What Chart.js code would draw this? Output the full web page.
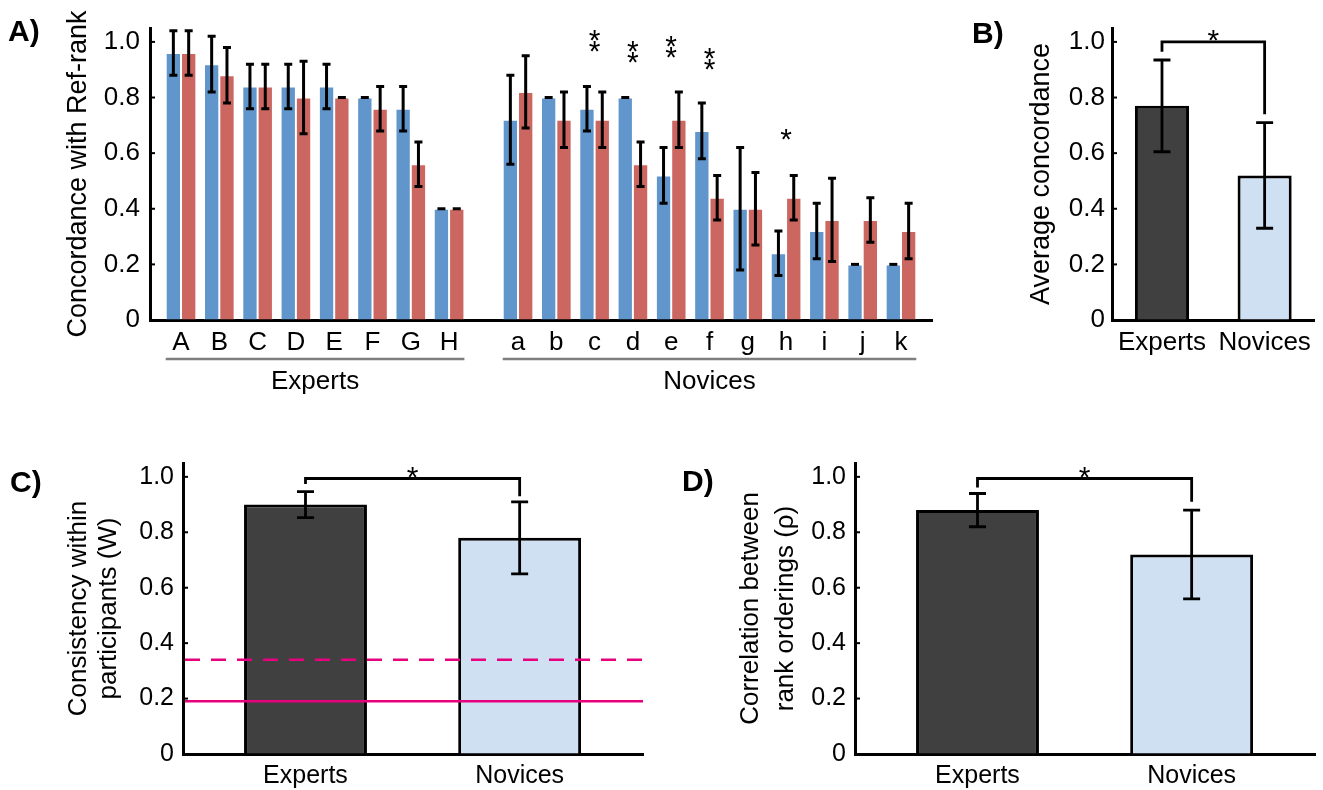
<!DOCTYPE html>
<html><head><meta charset="utf-8">
<script src="https://cdn.jsdelivr.net/npm/chart.js@4.4.0/dist/chart.umd.min.js"></script>
<style>
html,body{margin:0;padding:0;background:#fff;}
body{width:1323px;height:790px;overflow:hidden;position:relative;font-family:"Liberation Sans",Arial,Helvetica,sans-serif;}
.box{position:absolute;}
.lbl{position:absolute;font-weight:bold;font-size:30px;line-height:30px;color:#000;}
</style></head><body>
<div class="box" style="left:0;top:0;width:940px;height:400px"><canvas id="cA"></canvas></div>
<div class="box" style="left:960px;top:0;width:363px;height:400px"><canvas id="cB"></canvas></div>
<div class="box" style="left:0;top:400px;width:660px;height:390px"><canvas id="cC"></canvas></div>
<div class="box" style="left:660px;top:400px;width:663px;height:390px"><canvas id="cD"></canvas></div>
<div class="lbl" style="left:8px;top:16px">A)</div>
<div class="lbl" style="left:972px;top:18px">B)</div>
<div class="lbl" style="left:10px;top:467px">C)</div>
<div class="lbl" style="left:682px;top:466px">D)</div>
<script>
// ---------- DATA ----------
const expertLabels = ['A','B','C','D','E','F','G','H'];
const noviceLabels = ['a','b','c','d','e','f','g','h','i','j','k'];
const blueExperts    = [0.96,0.92,0.84,0.84,0.84,0.80,0.76,0.40];
const blueExpertsErr = [0.08,0.10,0.08,0.08,0.08,0.00,0.08,0.00];
const redExperts     = [0.96,0.88,0.84,0.80,0.80,0.76,0.56,0.40];
const redExpertsErr  = [0.08,0.10,0.08,0.13,0.00,0.08,0.08,0.00];
const blueNovices    = [0.72,0.80,0.76,0.80,0.52,0.68,0.40,0.24,0.32,0.20,0.20];
const blueNovicesErr = [0.16,0.00,0.08,0.00,0.10,0.10,0.22,0.08,0.10,0.00,0.00];
const redNovices     = [0.82,0.72,0.72,0.56,0.72,0.44,0.40,0.44,0.36,0.36,0.32];
const redNovicesErr  = [0.13,0.10,0.10,0.08,0.10,0.08,0.13,0.08,0.15,0.08,0.10];
const sigStarsA = [{cat:'c',count:2,at:1.024},{cat:'d',count:2,at:0.982},{cat:'e',count:2,at:1.002},{cat:'f',count:2,at:0.960},{cat:'h',count:1,at:0.666}];

const groupLabels = ['Experts','Novices'];
const avgConcordance    = [0.77, 0.52];
const avgConcordanceErr = [0.165, 0.19];
const consistencyW      = [0.90, 0.78];
const consistencyWErr   = [0.047, 0.13];
const chanceW     = 0.19;
const chanceW95   = 0.34;
const rankCorr    = [0.88, 0.72];
const rankCorrErr = [0.06, 0.16];

const yTicks = [0,0.2,0.4,0.6,0.8,1.0];
const yTickLabels = ['0','0.2','0.4','0.6','0.8','1.0'];

// ---------- STYLE ----------
const FONT = '"Liberation Sans", Arial, Helvetica, sans-serif';
Chart.defaults.font.family = FONT;
Chart.defaults.color = '#000';
const BLUE = '#6096cb', RED = '#cc6660', DARK = '#404040', LIGHT = '#cfe0f2', PINK = '#e6007e';
const NOVICE_OFFSET = 8.8;
const STAR = 30;

function drawStar(ctx, x, cy, size){
  ctx.save();
  ctx.font = size + 'px ' + FONT;
  ctx.fillStyle = '#000';
  ctx.textAlign = 'center';
  ctx.textBaseline = 'alphabetic';
  const m = ctx.measureText('*');
  ctx.fillText('*', x, cy + (m.actualBoundingBoxAscent - m.actualBoundingBoxDescent)/2);
  ctx.restore();
}
function yTickMarks(chart, len){
  const ctx = chart.ctx, ys = chart.scales.y, ca = chart.chartArea;
  ctx.save(); ctx.strokeStyle = '#000'; ctx.lineWidth = 2;
  ys.ticks.forEach(t => {
    const py = ys.getPixelForValue(t.value);
    ctx.beginPath(); ctx.moveTo(ca.left, py); ctx.lineTo(ca.left + len, py); ctx.stroke();
  });
  ctx.restore();
}
function yTitle(chart, lines, offsets, size){
  const ctx = chart.ctx, ca = chart.chartArea, cy = (ca.top + ca.bottom)/2;
  ctx.save(); ctx.font = size + 'px ' + FONT; ctx.fillStyle = '#000';
  ctx.textAlign = 'center'; ctx.textBaseline = 'middle';
  lines.forEach((s, i) => {
    ctx.save(); ctx.translate(ca.left + offsets[i], cy); ctx.rotate(-Math.PI/2);
    ctx.fillText(s, 0, 0); ctx.restore();
  });
  ctx.restore();
}
function bracket(chart, top, leftEnd, rightEnd){
  const ctx = chart.ctx, ys = chart.scales.y, meta = chart.getDatasetMeta(0);
  const x0 = meta.data[0].x, x1 = meta.data[1].x;
  const yb = ys.getPixelForValue(top);
  ctx.save(); ctx.strokeStyle = '#000'; ctx.lineWidth = 2.8;
  ctx.beginPath();
  ctx.moveTo(x0, ys.getPixelForValue(leftEnd)); ctx.lineTo(x0, yb);
  ctx.lineTo(x1, yb); ctx.lineTo(x1, ys.getPixelForValue(rightEnd));
  ctx.stroke(); ctx.restore();
  drawStar(ctx, (x0 + x1)/2, yb - 6, STAR);
}
const errorBars = {
  id: 'errorBars',
  afterDatasetsDraw(chart, args, opts){
    const ctx = chart.ctx, ys = chart.scales.y;
    chart.data.datasets.forEach((ds, di) => {
      if (!ds.errors) return;
      const meta = chart.getDatasetMeta(di);
      meta.data.forEach((bar, i) => {
        const d = ds.data[i]; const v = (typeof d === 'object') ? d.y : d; const e = ds.errors[i];
        const x = bar.x, yt = ys.getPixelForValue(v + e), yb = ys.getPixelForValue(v - e), c = opts.cap/2;
        ctx.save(); ctx.strokeStyle = '#000'; ctx.lineWidth = opts.width;
        ctx.beginPath();
        if (e > 0){ ctx.moveTo(x, yt); ctx.lineTo(x, yb); ctx.moveTo(x - c, yb); ctx.lineTo(x + c, yb); }
        ctx.moveTo(x - c, yt); ctx.lineTo(x + c, yt);
        ctx.stroke(); ctx.restore();
      });
    });
  }
};

function yScale(width, pad, size){
  return {
    type: 'linear', min: 0, max: 1.05,
    afterBuildTicks: s => { s.ticks = yTicks.map(v => ({value: v})); },
    afterFit: s => { s.width = width; },
    ticks: { padding: pad, font: {size: size}, color: '#000', callback: (v, i) => yTickLabels[i] },
    grid: { display: true, drawOnChartArea: false, drawTicks: false },
    border: { display: true, color: '#000', width: 3 }
  };
}
function xScale(min, max, positions, labels, height, size){
  return {
    type: 'linear', min: min, max: max, offset: false,
    afterBuildTicks: s => { s.ticks = positions.map(v => ({value: v})); },
    afterFit: s => { s.height = height; },
    ticks: { padding: 7, autoSkip: false, maxRotation: 0, font: {size: size}, color: '#000', callback: (v, i) => labels[i] },
    grid: { display: true, drawOnChartArea: false, drawTicks: false, offset: false },
    border: { display: true, color: '#000', width: 3 }
  };
}

// ---------- PANEL A ----------
const xExperts = expertLabels.map((_, i) => i);
const xNovices = noviceLabels.map((_, i) => i + NOVICE_OFFSET);
const xA = xExperts.concat(xNovices);
const labelsA = expertLabels.concat(noviceLabels);
const blueAll = blueExperts.concat(blueNovices), blueAllErr = blueExpertsErr.concat(blueNovicesErr);
const redAll = redExperts.concat(redNovices), redAllErr = redExpertsErr.concat(redNovicesErr);

const decorA = {
  id: 'decorA',
  afterDraw(chart){
    const ctx = chart.ctx, xs = chart.scales.x, ys = chart.scales.y, ca = chart.chartArea;
    yTickMarks(chart, 5);
    yTitle(chart, ['Concordance with Ref-rank'], [-71], 27);
    sigStarsA.forEach(s => {
      const xi = xA[labelsA.indexOf(s.cat)];
      const px = xs.getPixelForValue(xi), py = ys.getPixelForValue(s.at);
      for (let k = 0; k < s.count; k++) drawStar(ctx, px, py + k*11, STAR);
    });
    const groups = [[xExperts[0], xExperts[xExperts.length-1], groupLabels[0]], [xNovices[0], xNovices[xNovices.length-1], groupLabels[1]]];
    ctx.save();
    groups.forEach(g => {
      const l = xs.getPixelForValue(g[0] - 0.4), r = xs.getPixelForValue(g[1] + 0.4);
      ctx.strokeStyle = '#7f7f7f'; ctx.lineWidth = 2.5;
      ctx.beginPath(); ctx.moveTo(l, ca.bottom + 39); ctx.lineTo(r, ca.bottom + 39); ctx.stroke();
      ctx.fillStyle = '#000'; ctx.font = '26px ' + FONT; ctx.textAlign = 'center'; ctx.textBaseline = 'middle';
      ctx.fillText(g[2], (l + r)/2, ca.bottom + 62);
    });
    ctx.restore();
  }
};
new Chart(document.getElementById('cA'), {
  type: 'bar',
  data: { datasets: [
    { label: 'blue', data: xA.map((x, i) => ({x: x, y: blueAll[i]})), errors: blueAllErr, backgroundColor: BLUE, borderColor: 'rgba(255,255,255,0.45)', borderWidth: 1, categoryPercentage: 0.8, barPercentage: 1.0 },
    { label: 'red', data: xA.map((x, i) => ({x: x, y: redAll[i]})), errors: redAllErr, backgroundColor: RED, borderColor: 'rgba(255,255,255,0.45)', borderWidth: 1, categoryPercentage: 0.8, barPercentage: 1.0 }
  ]},
  options: {
    responsive: true, maintainAspectRatio: false, animation: false, devicePixelRatio: 1,
    layout: { padding: {top: 28, right: 8, left: 0, bottom: 0} },
    plugins: { legend: {display: false}, tooltip: {enabled: false}, errorBars: {cap: 8, width: 3} },
    scales: { x: xScale(-0.81, 19.61, xA, labelsA, 80, 26), y: yScale(150, 10, 26) }
  },
  plugins: [errorBars, decorA]
});

// ---------- PANELS B, C, D ----------
function simplePanel(id, vals, errs, opts){
  new Chart(document.getElementById(id), {
    type: 'bar',
    data: { datasets: [{ data: vals.map((v, i) => ({x: i, y: v})), errors: errs,
      backgroundColor: [DARK, LIGHT], borderColor: '#000', borderWidth: 3, borderSkipped: 'start',
      categoryPercentage: 1.0, barPercentage: opts.barPct }] },
    options: {
      responsive: true, maintainAspectRatio: false, animation: false, devicePixelRatio: 1,
      layout: { padding: opts.padding },
      plugins: { legend: {display: false}, tooltip: {enabled: false}, errorBars: {cap: 17, width: 2.8} },
      scales: { x: xScale(opts.xmin, opts.xmax, [0, 1], groupLabels, opts.xh, opts.fs), y: yScale(opts.yw, opts.ypad, opts.fs) }
    },
    plugins: [errorBars, {
      id: 'decor' + id,
      afterDraw(chart){
        const ctx = chart.ctx, ys = chart.scales.y, ca = chart.chartArea;
        if (opts.chance){
          ctx.save(); ctx.strokeStyle = PINK; ctx.lineWidth = 2.5;
          ctx.setLineDash([15, 11]);
          let py = ys.getPixelForValue(opts.chance[1]);
          ctx.beginPath(); ctx.moveTo(ca.left + 2, py); ctx.lineTo(ca.right, py); ctx.stroke();
          ctx.setLineDash([]);
          py = ys.getPixelForValue(opts.chance[0]);
          ctx.beginPath(); ctx.moveTo(ca.left + 2, py); ctx.lineTo(ca.right, py); ctx.stroke();
          ctx.restore();
        }
        yTickMarks(chart, 5);
        yTitle(chart, opts.title, opts.titleOff, opts.tfs);
        bracket(chart, opts.br[0], opts.br[1], opts.br[2]);
      }
    }]
  });
}
simplePanel('cB', avgConcordance, avgConcordanceErr, {
  barPct: 0.527, padding: {top: 28, right: 9, left: 0, bottom: 0}, xmin: -0.487, xmax: 1.481, xh: 80, yw: 152, ypad: 7, fs: 26, tfs: 27,
  title: ['Average concordance'], titleOff: [-70], br: [1.0, 0.965, 0.74]
});
simplePanel('cC', consistencyW, consistencyWErr, {
  barPct: 0.574, padding: {top: 63, right: 17, left: 0, bottom: 0}, xmin: -0.572, xmax: 1.576, xh: 36, yw: 183, ypad: 9, fs: 25, tfs: 26,
  title: ['Consistency within', 'participants (W)'], titleOff: [-104, -74], br: [0.994, 0.974, 0.93], chance: [chanceW, chanceW95]
});
simplePanel('cD', rankCorr, rankCorrErr, {
  barPct: 0.574, padding: {top: 63, right: 8, left: 0, bottom: 0}, xmin: -0.572, xmax: 1.576, xh: 36, yw: 195, ypad: 9, fs: 25, tfs: 26,
  title: ['Correlation between', 'rank orderings (\u03c1)'], titleOff: [-104, -69], br: [0.994, 0.962, 0.91]
});
</script>
</body></html>
